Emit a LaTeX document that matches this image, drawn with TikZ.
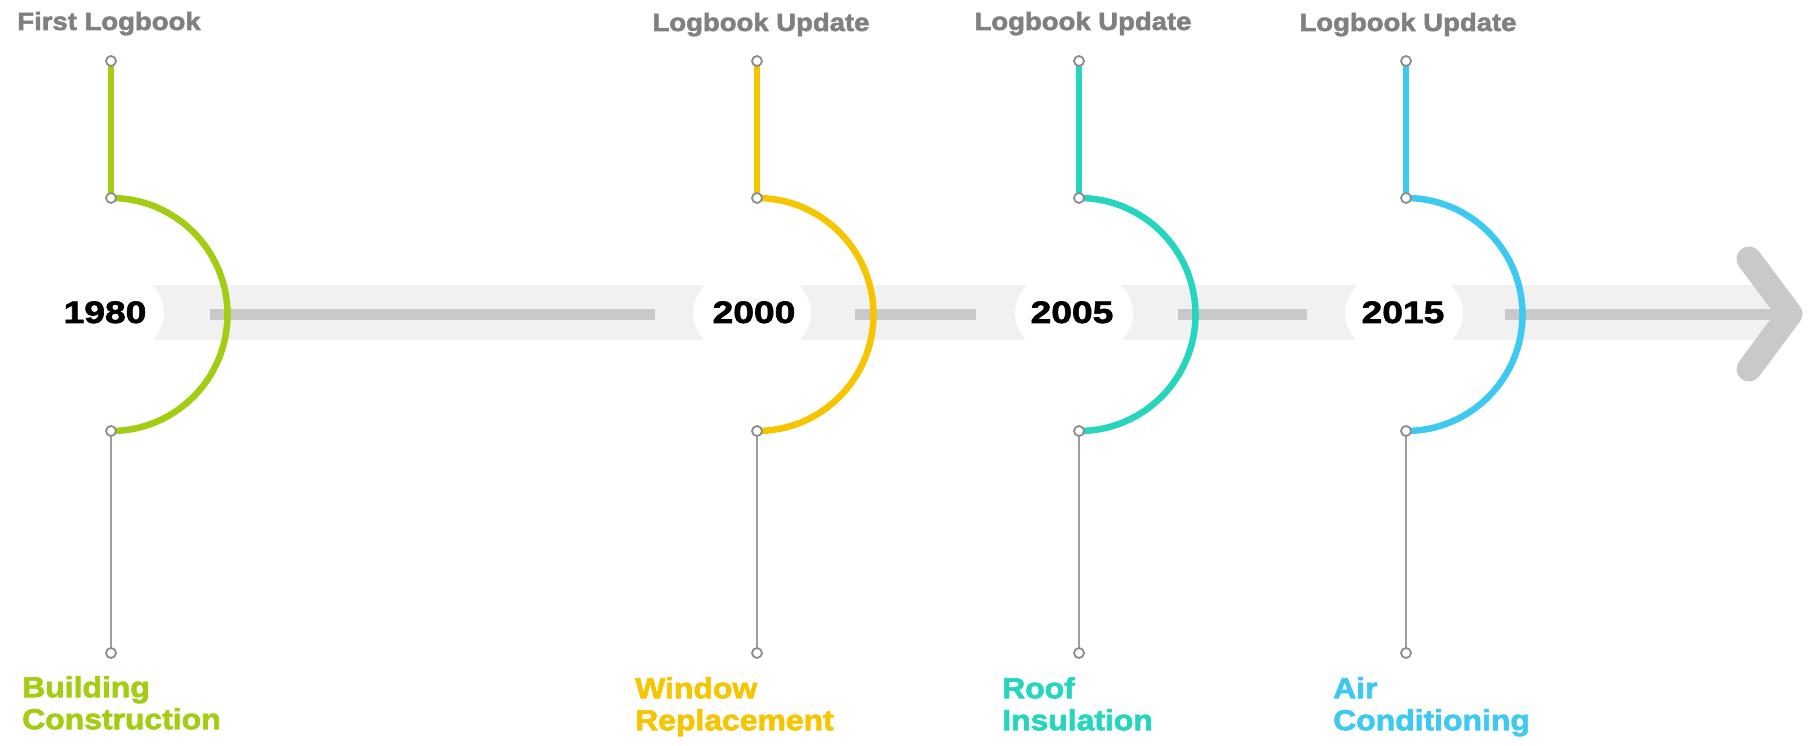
\documentclass[tikz,border=0pt]{standalone}
\usepackage{fontspec}
\usetikzlibrary{shapes.geometric}
\newfontfamily\lblfont{Liberation Sans}[FakeStretch=1.1,FakeBold=2.2]
\newfontfamily\yrfont{Liberation Sans}[FakeStretch=1.2,FakeBold=2]
\definecolor{cgreen}{HTML}{A2CD12}
\definecolor{cyellow}{HTML}{F6C500}
\definecolor{cteal}{HTML}{25D5BE}
\definecolor{ccyan}{HTML}{3DC9F2}
\definecolor{cband}{HTML}{F1F1F1}
\definecolor{cbar}{HTML}{C9C9C9}
\definecolor{clabel}{HTML}{808080}
\definecolor{cdot}{HTML}{8C8C8C}
\begin{document}
\begin{tikzpicture}[x=1pt,y=-1pt,
  bandfill/.style={fill=cband},
  barline/.style={draw=cbar,line width=11pt},
  chevline/.style={draw=cbar,line width=25pt,line cap=round,line join=round},
  wellipse/.style={ellipse,fill=white,minimum width=118pt,minimum height=92pt,inner sep=0pt},
  yeartxt/.style={anchor=base,inner sep=0pt,font=\yrfont\bfseries\fontsize{31}{34}\selectfont,text=black},
  toptxt/.style={anchor=base,inner sep=0pt,font=\lblfont\bfseries\fontsize{25}{28}\selectfont,text=clabel},
  bottxt/.style={anchor=north west,align=left,inner sep=0pt,font=\lblfont\bfseries\fontsize{29}{32}\selectfont},
  arcline/.style={line width=6.5pt},
  topstem/.style={line width=6.5pt},
  botstem/.style={draw=cdot!85,line width=2pt},
  dotc/.style={circle,draw=cdot,line width=1.8pt,fill=white,minimum size=10pt,inner sep=0pt}]
\useasboundingbox (0,0) rectangle (1816,746);
% background band
\fill[bandfill] (140,285) rectangle (1770,340);
% dark bar segments
\coordinate (bs1) at (210,314);  \coordinate (be1) at (655,314);
\coordinate (bs2) at (855,314);  \coordinate (be2) at (976,314);
\coordinate (bs3) at (1178,314); \coordinate (be3) at (1307,314);
\coordinate (bs4) at (1505,314); \coordinate (be4) at (1785,314);
\draw[barline] (bs1) -- (be1);
\draw[barline] (bs2) -- (be2);
\draw[barline] (bs3) -- (be3);
\draw[barline] (bs4) -- (be4);
% arrow head
\coordinate (ch1) at (1749,259);
\coordinate (ch2) at (1790,314);
\coordinate (ch3) at (1749,369);
\draw[chevline] (ch1) -- (ch2) -- (ch3);
% white ellipses and years
\node[wellipse] (w1) at (105,313) {};
\node[wellipse] (w2) at (752,313) {};
\node[wellipse] (w3) at (1074,313) {};
\node[wellipse] (w4) at (1404,313) {};
\node[yeartxt] (y1980) at (105,323) {1980};
\node[yeartxt] (y2000) at (754,323) {2000};
\node[yeartxt] (y2005) at (1072,323) {2005};
\node[yeartxt] (y2015) at (1403,323) {2015};
% stems and arcs
\foreach \i/\x/\c in {1/111/cgreen,2/757/cyellow,3/1079/cteal,4/1406/ccyan}{
  \coordinate (a\i) at (\x,61);
  \coordinate (j\i) at (\x,198);
  \coordinate (k\i) at (\x,431);
  \coordinate (b\i) at (\x,653);
  \draw[topstem,draw=\c] (a\i) -- (j\i);
  \draw[arcline,draw=\c] (j\i) arc[start angle=90,end angle=-90,radius=116.5pt];
  \draw[botstem] (k\i) -- (b\i);
  \node[dotc] (da\i) at (a\i) {};
  \node[dotc] (dj\i) at (j\i) {};
  \node[dotc] (dk\i) at (k\i) {};
  \node[dotc] (db\i) at (b\i) {};
}
% top labels
\node[toptxt] (t1) at (109,30) {First Logbook};
\node[toptxt] (t2) at (761,31) {Logbook Update};
\node[toptxt] (t3) at (1083,30) {Logbook Update};
\node[toptxt] (t4) at (1408,31) {Logbook Update};
% bottom labels
\node[bottxt,text=cgreen] (l1) at (22,676) {Building\\Construction};
\node[bottxt,text=cyellow] (l2) at (635,677) {Window\\Replacement};
\node[bottxt,text=cteal] (l3) at (1002,677) {Roof\\Insulation};
\node[bottxt,text=ccyan] (l4) at (1333,677) {Air\\Conditioning};
\end{tikzpicture}
\end{document}
